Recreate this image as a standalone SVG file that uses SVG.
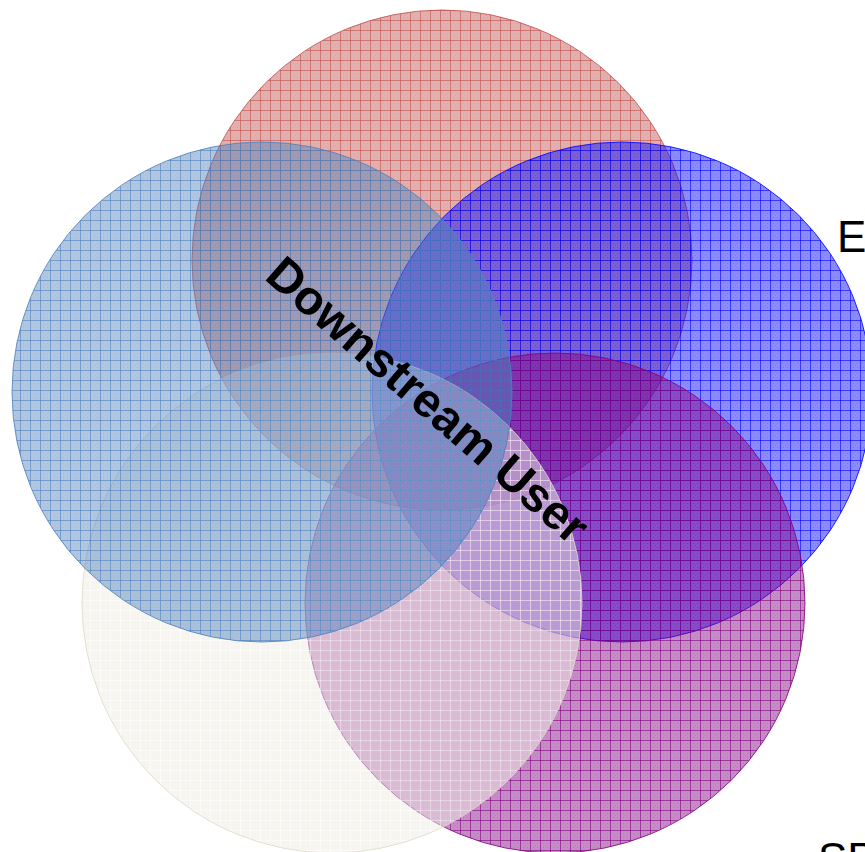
<svg xmlns="http://www.w3.org/2000/svg" width="865" height="852" viewBox="0 0 865 852">
<style>
.lbl{font-family:"Liberation Sans",Arial,sans-serif;fill:#000}
.c{stroke-width:1}
</style>
<defs>
<pattern id="pr" width="10" height="10" patternUnits="userSpaceOnUse"><rect width="10" height="10" fill="#c0504d" fill-opacity="0.45"/><path d="M0 0.5H10M0.5 0V10" stroke="#c0504d" stroke-opacity="0.6" stroke-width="1"/><path d="M3 3h1v1h-1zM5 5h1v1h-1zM7 3h1v1h-1zM3 7h1v1h-1zM7 7h1v1h-1z" fill="#c0504d" fill-opacity="0.15"/></pattern>
<pattern id="ps" width="10" height="10" patternUnits="userSpaceOnUse"><rect width="10" height="10" fill="#4f81bd" fill-opacity="0.45"/><path d="M0 0.5H10M0.5 0V10" stroke="#4f81bd" stroke-opacity="0.6" stroke-width="1"/><path d="M3 3h1v1h-1zM5 5h1v1h-1zM7 3h1v1h-1zM3 7h1v1h-1zM7 7h1v1h-1z" fill="#4f81bd" fill-opacity="0.15"/></pattern>
<pattern id="pb" width="10" height="10" patternUnits="userSpaceOnUse"><rect width="10" height="10" fill="#0000ff" fill-opacity="0.45"/><path d="M0 0.5H10M0.5 0V10" stroke="#0000ff" stroke-opacity="0.6" stroke-width="1"/><path d="M3 3h1v1h-1zM5 5h1v1h-1zM7 3h1v1h-1zM3 7h1v1h-1zM7 7h1v1h-1z" fill="#0000ff" fill-opacity="0.15"/></pattern>
<pattern id="pp" width="10" height="10" patternUnits="userSpaceOnUse"><rect width="10" height="10" fill="#800080" fill-opacity="0.45"/><path d="M0 0.5H10M0.5 0V10" stroke="#800080" stroke-opacity="0.6" stroke-width="1"/><path d="M3 3h1v1h-1zM5 5h1v1h-1zM7 3h1v1h-1zM3 7h1v1h-1zM7 7h1v1h-1z" fill="#800080" fill-opacity="0.15"/></pattern>
<pattern id="pe" width="10" height="10" patternUnits="userSpaceOnUse"><rect width="10" height="10" fill="#eeece1" fill-opacity="0.5"/><path d="M0 0.5H10M0.5 0V10" stroke="#ffffff" stroke-opacity="0.6" stroke-width="1"/></pattern>
</defs>
<g id="set-red"><circle class="c" cx="442" cy="260" r="250" fill="url(#pr)" stroke="#c0504d" stroke-opacity="0.8"/></g>
<g id="set-blue"><circle class="c" cx="622" cy="392" r="250" fill="url(#pb)" stroke="#0000ff" stroke-opacity="0.8"/><text class="lbl" x="837" y="252" font-size="44">E</text></g>
<g id="set-purple"><circle class="c" cx="555" cy="603" r="250" fill="url(#pp)" stroke="#800080" stroke-opacity="0.8"/><text class="lbl" x="818" y="874" font-size="44">SP</text></g>
<g id="set-beige"><circle class="c" cx="332" cy="603" r="250" fill="url(#pe)" stroke="#ddd9c4" stroke-opacity="0.8"/></g>
<g id="set-steelblue"><circle class="c" cx="262" cy="392" r="250" fill="url(#ps)" stroke="#4f81bd" stroke-opacity="0.8"/></g>
<g id="center-label"><text class="lbl" x="428" y="400" font-size="48" font-weight="bold" text-anchor="middle" dominant-baseline="central" transform="rotate(41 428 400)">Downstream User</text></g>
<g id="connectors"></g>
</svg>
